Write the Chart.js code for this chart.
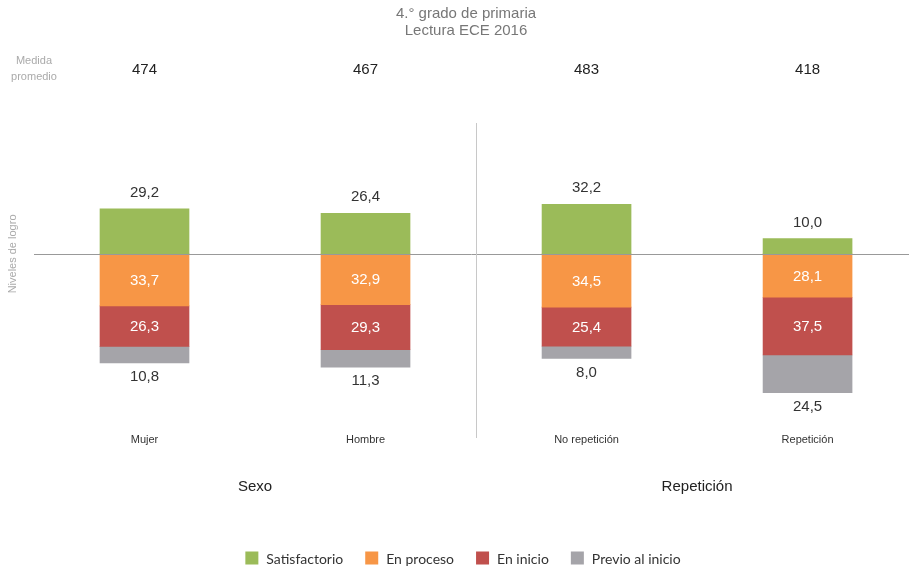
<!DOCTYPE html>
<html>
<head>
<meta charset="utf-8">
<script src="https://cdn.jsdelivr.net/npm/chart.js@4.4.1/dist/chart.umd.min.js"></script>
<style>
  html, body { margin: 0; padding: 0; background: #fff; }
  #wrap { width: 909px; height: 566px; }
</style>
</head>
<body>
<div id="wrap"><canvas id="ece"></canvas></div>
<script>
// data
const categories = ["Mujer", "Hombre", "No repetición", "Repetición"];
const groups = ["Sexo", "Repetición"];
const medias = [474, 467, 483, 418];
const satisfactorio = [29.2, 26.4, 32.2, 10.0];
const enProceso = [33.7, 32.9, 34.5, 28.1];
const enInicio = [26.3, 29.3, 25.4, 37.5];
const previo = [10.8, 11.3, 8.0, 24.5];

const seriesNames = ["Satisfactorio", "En proceso", "En inicio", "Previo al inicio"];
const seriesColors = ["#9BBB59", "#F79646", "#C0504D", "#A5A4A9"];

const fmt = v => v.toFixed(1).replace(".", ",");
const pts = (arr, sign) => arr.map((v, i) => ({ x: i, y: sign * v }));

// everything that is not a bar: header, labels, separators, legend
const decorPlugin = {
  id: "decor",
  afterDatasetsDraw(chart) {
    const { ctx, chartArea } = chart;
    const xs = chart.scales.x, ys = chart.scales.y;
    const y0 = ys.getPixelForValue(0);
    ctx.save();

    // zero line and group separator
    ctx.strokeStyle = "#999";
    ctx.lineWidth = 1;
    ctx.beginPath();
    ctx.moveTo(chartArea.left, Math.round(y0) + 0.5);
    ctx.lineTo(chartArea.right, Math.round(y0) + 0.5);
    ctx.stroke();
    ctx.strokeStyle = "#c8c8c8";
    const xsep = Math.round(xs.getPixelForValue(1.5)) + 0.5;
    ctx.beginPath();
    ctx.moveTo(xsep, chartArea.top);
    ctx.lineTo(xsep, chartArea.bottom);
    ctx.stroke();

    // value labels
    ctx.textAlign = "center";
    ctx.textBaseline = "middle";
    ctx.font = "15px 'Liberation Sans', Arial, sans-serif";
    chart.data.datasets.forEach((ds, di) => {
      const meta = chart.getDatasetMeta(di);
      meta.data.forEach((bar, i) => {
        const v = Math.abs(ds.data[i].y);
        const top = Math.min(bar.y, bar.base), bot = Math.max(bar.y, bar.base);
        if (di === 0) {
          ctx.fillStyle = "#333";
          ctx.fillText(fmt(v), bar.x, top - 16);
        } else if (di === 3) {
          ctx.fillStyle = "#333";
          ctx.fillText(fmt(v), bar.x, bot + 14);
        } else {
          ctx.fillStyle = "#fff";
          ctx.fillText(fmt(v), bar.x, (top + bot) / 2 + 1);
        }
      });
    });

    // header: medias and categories
    categories.forEach((c, i) => {
      const x = xs.getPixelForValue(i);
      ctx.fillStyle = "#222";
      ctx.font = "15px 'Liberation Sans', Arial, sans-serif";
      ctx.fillText(String(medias[i]), x, 70);
      ctx.fillStyle = "#333";
      ctx.font = "11px 'Liberation Sans', Arial, sans-serif";
      ctx.fillText(c, x, 440);
    });

    // group labels
    ctx.fillStyle = "#222";
    ctx.font = "15px 'Liberation Sans', Arial, sans-serif";
    groups.forEach((g, gi) => {
      const x = (xs.getPixelForValue(gi * 2) + xs.getPixelForValue(gi * 2 + 1)) / 2;
      ctx.fillText(g, x, 487);
    });

    // title
    ctx.fillStyle = "#777";
    ctx.font = "15px 'Liberation Sans', Arial, sans-serif";
    ctx.fillText("4.° grado de primaria", 466, 14);
    ctx.fillText("Lectura ECE 2016", 466, 31);

    // side captions
    ctx.fillStyle = "#aaa";
    ctx.font = "11px 'Liberation Sans', Arial, sans-serif";
    ctx.fillText("Medida", 34, 61);
    ctx.fillText("promedio", 34, 77);
    ctx.save();
    ctx.translate(13, y0);
    ctx.rotate(-Math.PI / 2);
    ctx.fillText("Niveles de logro", 0, 0);
    ctx.restore();

    // legend
    ctx.font = "14px Lato, 'Open Sans', sans-serif";
    ctx.textAlign = "left";
    const box = 13, gapText = 8, gapItem = 22;
    const widths = chart.data.datasets.map(ds => box + gapText + ctx.measureText(ds.label).width);
    const total = widths.reduce((a, b) => a + b, 0) + gapItem * (widths.length - 1);
    let lx = 463 - total / 2;
    const ly = 558;
    chart.data.datasets.forEach((ds, di) => {
      ctx.fillStyle = ds.backgroundColor;
      ctx.fillRect(lx, ly - box / 2, box, box);
      ctx.fillStyle = "#333";
      ctx.fillText(ds.label, lx + box + gapText, ly + 1);
      lx += widths[di] + gapItem;
    });

    ctx.restore();
  }
};

const ctx = document.getElementById("ece").getContext("2d");
const eceChart = new Chart(ctx, {
  type: "bar",
  data: {
    datasets: [
      { label: seriesNames[0], data: pts(satisfactorio, 1), backgroundColor: seriesColors[0] },
      { label: seriesNames[1], data: pts(enProceso, -1), backgroundColor: seriesColors[1] },
      { label: seriesNames[2], data: pts(enInicio, -1), backgroundColor: seriesColors[2] },
      { label: seriesNames[3], data: pts(previo, -1), backgroundColor: seriesColors[3] }
    ]
  },
  options: {
    responsive: true,
    maintainAspectRatio: false,
    animation: false,
    events: [],
    barThickness: 89,
    layout: { padding: { left: 34, right: 0, top: 123, bottom: 128 } },
    plugins: { legend: { display: false }, tooltip: { enabled: false } },
    scales: {
      x: { type: "linear", stacked: true, display: false, offset: false, min: -0.5, max: 3.459 },
      y: { stacked: true, display: false, min: -119.5, max: 85 }
    }
  },
  plugins: [decorPlugin]
});
</script>
</body>
</html>
